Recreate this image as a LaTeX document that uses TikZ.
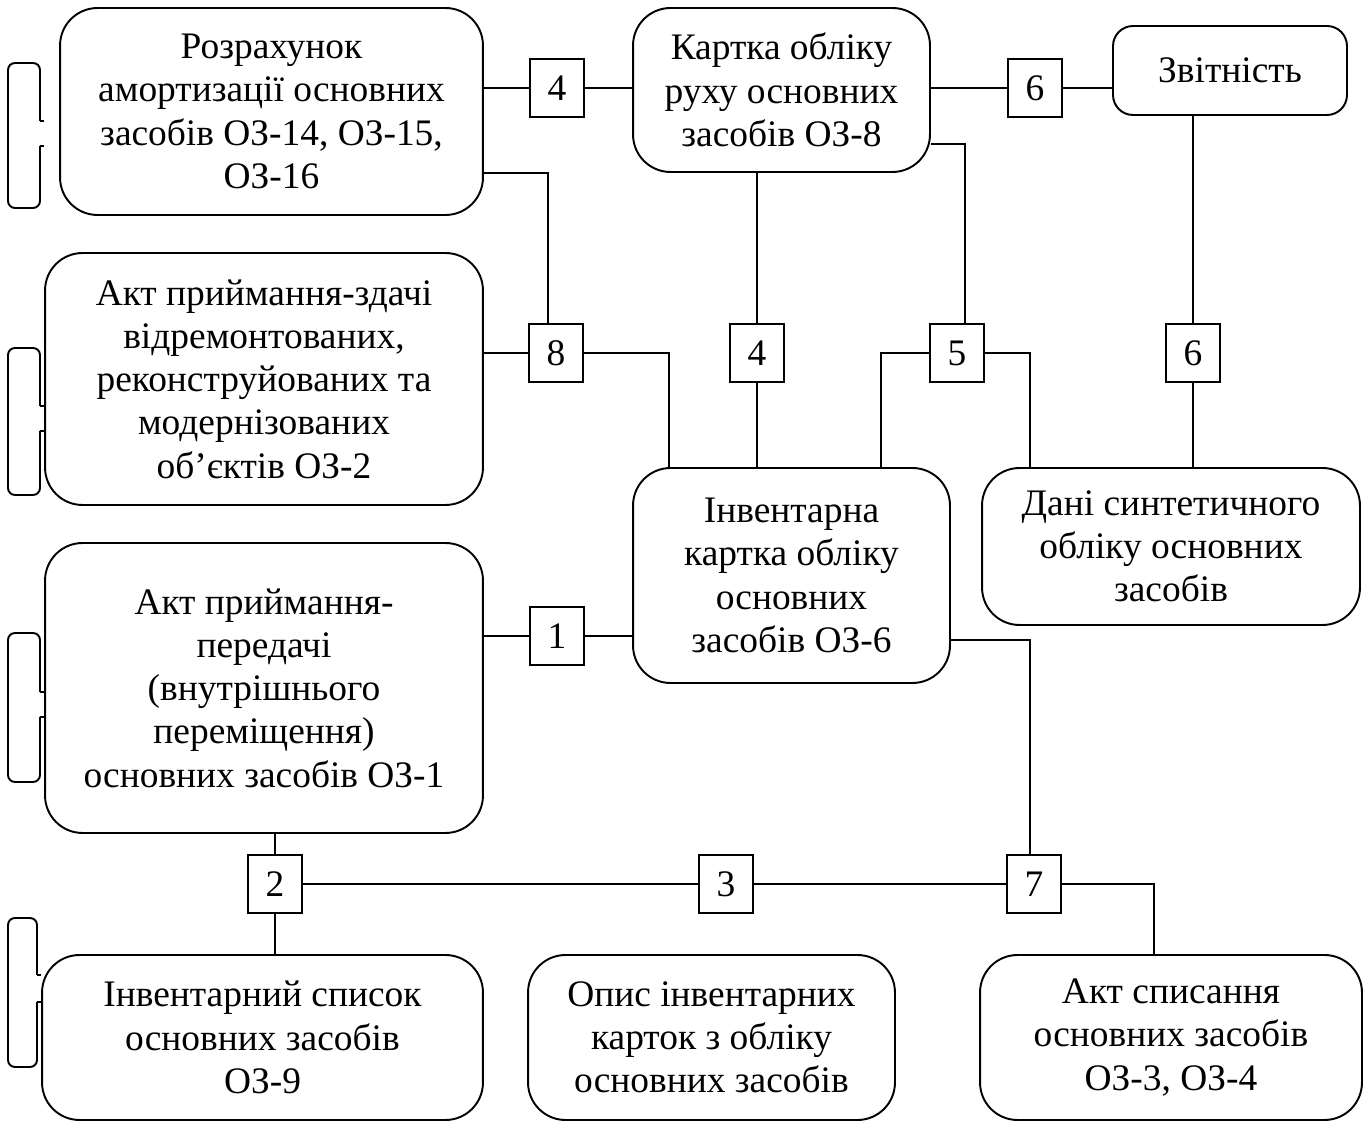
\documentclass[tikz,border=0pt]{standalone}
\usepackage{fontspec}
\setmainfont{Liberation Serif}
\usepackage{tikz}
\usetikzlibrary{positioning}

\begin{document}
\begin{tikzpicture}[
    x=0.02cm, y=-0.02cm,
    line width=1.1pt,
    font=\fontsize{21.3}{24.6}\selectfont,
    docbox/.style={rectangle, rounded corners=0.75cm, draw, align=center, inner sep=2pt},
    numbox/.style={rectangle, draw, minimum width=1.08cm, minimum height=1.16cm, inner sep=0pt},
    link/.style={draw}
]
    \useasboundingbox (0,0) rectangle (1367,1124);

    % Left column
    \node[docbox, minimum width=8.46cm, minimum height=4.14cm] (amort) at (271.5,111.5)
        {Розрахунок\\амортизації основних\\засобів ОЗ-14, ОЗ-15,\\ОЗ-16};
    \node[docbox, minimum width=8.76cm, minimum height=5.04cm] (remont) at (264,379)
        {Акт приймання-здачі\\відремонтованих,\\реконструйованих та\\модернізованих\\об’єктів ОЗ-2};
    \node[docbox, minimum width=8.76cm, minimum height=5.8cm] (peredacha) at (264,688)
        {Акт приймання-\\передачі\\(внутрішнього\\переміщення)\\основних засобів ОЗ-1};

    % Bottom row
    \node[docbox, minimum width=8.82cm, minimum height=3.3cm] (spysok) at (262.5,1037.5)
        {Інвентарний список\\основних засобів\\ОЗ-9};
    \node[docbox, minimum width=7.34cm, minimum height=3.3cm] (opys) at (711.5,1037.5)
        {Опис інвентарних\\карток з обліку\\основних засобів};
    \node[docbox, minimum width=7.64cm, minimum height=3.3cm] (spysannia) at (1171,1037.5)
        {Акт списання\\основних засобів\\ОЗ-3, ОЗ-4};

    % Cards and reports
    \node[docbox, minimum width=5.94cm, minimum height=3.28cm] (kartka8) at (781.5,90)
        {Картка обліку\\руху основних\\засобів ОЗ-8};
    \node[docbox, rounded corners=0.4cm, minimum width=4.68cm, minimum height=1.78cm] (zvit) at (1230,70.5)
        {Звітність};
    \node[docbox, minimum width=6.34cm, minimum height=4.3cm] (kartka6) at (791.5,575.5)
        {Інвентарна\\картка обліку\\основних\\засобів ОЗ-6};
    \node[docbox, minimum width=7.56cm, minimum height=3.14cm] (syntet) at (1171,546.5)
        {Дані синтетичного\\обліку основних\\засобів};

    % Numbered links
    \node[numbox] (n4a) at (557,88) {4};
    \node[numbox] (n6a) at (1035,88) {6};
    \node[numbox] (n8) at (556,353) {8};
    \node[numbox] (n4b) at (757,353) {4};
    \node[numbox] (n5) at (957,353) {5};
    \node[numbox] (n6b) at (1193,353) {6};
    \node[numbox] (n1) at (557,636) {1};
    \node[numbox] (n2) at (275,884) {2};
    \node[numbox] (n3) at (726,884) {3};
    \node[numbox] (n7) at (1034,884) {7};

    % Helper points
    \coordinate (c8) at (548,173);
    \coordinate (k8) at (669,468);
    \coordinate (c5) at (965,144);
    \coordinate (k5l) at (881,468);
    \coordinate (k5r) at (1030,468);
    \coordinate (c7) at (1030,640);
    \coordinate (s7) at (1154,955);

    % Connectors
    \draw (n4a.west) -- (n4a.west -| amort.east);
    \draw (n4a.east) -- (n4a.east -| kartka8.west);
    \draw (n6a.west) -- (n6a.west -| kartka8.east);
    \draw (n6a.east) -- (n6a.east -| zvit.west);
    \draw (c8 -| amort.east) -- (c8) -- (c8 |- n8.north);
    \draw (n8.west) -- (n8.west -| remont.east);
    \draw (n8.east) -| (k8);
    \draw (n4b.north) -- (n4b.north |- kartka8.south);
    \draw (n4b.south) -- (n4b.south |- kartka6.north);
    \draw (c5 -| kartka8.east) -- (c5) -- (c5 |- n5.north);
    \draw (n5.west) -| (k5l);
    \draw (n5.east) -| (k5r);
    \draw (n6b.north) -- (n6b.north |- zvit.south);
    \draw (n6b.south) -- (n6b.south |- syntet.north);
    \draw (n1.west) -- (n1.west -| peredacha.east);
    \draw (n1.east) -- (n1.east -| kartka6.west);
    \draw (c7 -| kartka6.east) -- (c7) -- (c7 |- n7.north);
    \draw (n2.north) -- (n2.north |- peredacha.south);
    \draw (n2.south) -- (n2.south |- spysok.north);
    \draw (n2.east) -- (n3.west);
    \draw (n3.east) -- (n7.west);
    \draw (n7.east) -| (s7);

    % Side brackets
    \foreach \top/\bot/\ta/\tb/\rx in {63/208/121/146/40, 348/495/406/431/40, 633/782/692/717/40, 918/1067/975/1002/37} {
        \draw (\rx+4,\ta) -- (\rx,\ta);
        \draw[rounded corners=0.14cm] (\rx,\ta) -- (\rx,\top) -- (8,\top) -- (8,\bot) -- (\rx,\bot) -- (\rx,\tb);
        \draw (\rx,\tb) -- (\rx+4,\tb);
    }
\end{tikzpicture}
\end{document}
